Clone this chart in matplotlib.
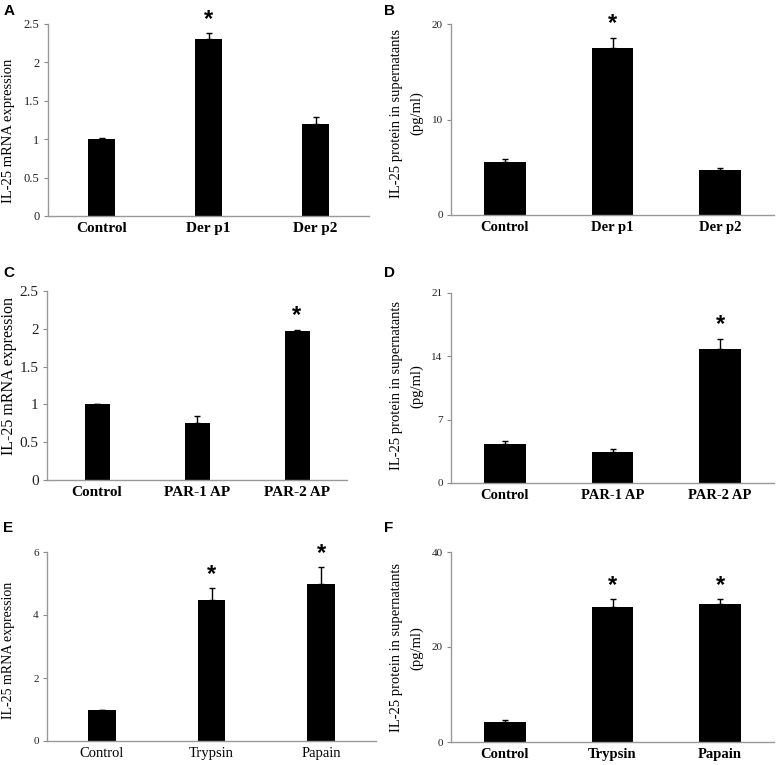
import matplotlib.pyplot as plt

plt.rcParams['font.family'] = ['Liberation Serif', 'DejaVu Serif']

W, H = 776, 765

# panel A: mRNA, house dust mite allergens
a_labels = ['Control', 'Der p1', 'Der p2']
a_values = [1.0, 2.31, 1.20]
a_errors = [0.01, 0.07, 0.09]
a_stars = [False, True, False]
a_ticks = [0, 0.5, 1, 1.5, 2, 2.5]

# panel B: protein, allergens
b_labels = ['Control', 'Der p1', 'Der p2']
b_values = [5.55, 17.5, 4.74]
b_errors = [0.28, 1.05, 0.2]
b_stars = [False, True, False]
b_ticks = [0, 10, 20]

# panel C: mRNA, PAR agonist peptides
c_labels = ['Control', 'PAR-1 AP', 'PAR-2 AP']
c_values = [1.0, 0.76, 1.97]
c_errors = [0.005, 0.08, 0.02]
c_stars = [False, False, True]
c_ticks = [0, 0.5, 1, 1.5, 2, 2.5]

# panel D: protein, PAR agonist peptides
d_labels = ['Control', 'PAR-1 AP', 'PAR-2 AP']
d_values = [4.27, 3.46, 14.8]
d_errors = [0.4, 0.33, 1.14]
d_stars = [False, False, True]
d_ticks = [0, 7, 14, 21]

# panel E: mRNA, proteases
e_labels = ['Control', 'Trypsin', 'Papain']
e_values = [1.0, 4.47, 4.99]
e_errors = [0.0, 0.38, 0.52]
e_stars = [False, True, True]
e_ticks = [0, 2, 4, 6]

# panel F: protein, proteases
f_labels = ['Control', 'Trypsin', 'Papain']
f_values = [4.28, 28.5, 29.0]
f_errors = [0.42, 1.6, 1.05]
f_stars = [False, True, True]
f_ticks = [0, 20, 40]

MRNA = 'IL-25 mRNA expression'
PROT = 'IL-25 protein in supernatants\n(pg/ml)'


def add_axes_px(fig, x0, y0, x1, y1):
    return fig.add_axes([x0 / W, 1 - y1 / H, (x1 - x0) / W, (y1 - y0) / H])


def bar_panel(ax, labels, values, errors, stars, ticks, width,
              xfont=10.5, bold_x=True, yfont=8):
    x = range(len(labels))
    ax.bar(x, values, width=width, color='black', zorder=2)
    ax.errorbar(x, values, yerr=[[0] * len(errors), errors], fmt='none',
                ecolor='black', elinewidth=1.0, capsize=2.5, capthick=1.0, zorder=3)
    for i, s in enumerate(stars):
        if s:
            ax.annotate('*', (i, values[i] + errors[i]), xytext=(0, 10),
                        textcoords='offset points', ha='center', va='center',
                        fontsize=17, fontweight='bold', family='Liberation Sans')
    ax.set_xlim(-0.5, len(labels) - 0.5)
    ax.set_ylim(0, ticks[-1])
    ax.set_yticks(ticks)
    ax.set_yticklabels(['%g' % t for t in ticks])
    ax.set_xticks(list(x))
    ax.set_xticklabels(labels, fontsize=xfont,
                       fontweight='bold' if bold_x else 'normal')
    ax.tick_params(axis='x', length=0, pad=4)
    ax.tick_params(axis='y', length=3, width=0.8, color='#888888',
                   labelsize=yfont, pad=3, labelcolor='#222222')
    for side in ['top', 'right']:
        ax.spines[side].set_visible(False)
    for side in ['left', 'bottom']:
        ax.spines[side].set_color('#999999')
        ax.spines[side].set_linewidth(1.0)


def ylabel_px(fig, text, x, y, size):
    fig.text(x / W, 1 - y / H, text, rotation=90, fontsize=size,
             ha='center', va='center', multialignment='center',
             linespacing=1.7)


fig = plt.figure(figsize=(W / 100, H / 100), dpi=100)

axA = add_axes_px(fig, 48, 24, 369, 216)
bar_panel(axA, a_labels, a_values, a_errors, a_stars, a_ticks, 0.25,
          xfont=11, yfont=9)
axB = add_axes_px(fig, 451, 24, 774, 215)
bar_panel(axB, b_labels, b_values, b_errors, b_stars, b_ticks, 0.39)
axC = add_axes_px(fig, 47, 291, 347, 480)
bar_panel(axC, c_labels, c_values, c_errors, c_stars, c_ticks, 0.25,
          xfont=11, yfont=11)
axD = add_axes_px(fig, 451, 293, 774, 483)
bar_panel(axD, d_labels, d_values, d_errors, d_stars, d_ticks, 0.39)
axE = add_axes_px(fig, 47, 552, 376, 741)
bar_panel(axE, e_labels, e_values, e_errors, e_stars, e_ticks, 0.25,
          xfont=10.5, bold_x=False)
axF = add_axes_px(fig, 451, 552, 774, 742)
bar_panel(axF, f_labels, f_values, f_errors, f_stars, f_ticks, 0.39)

ylabel_px(fig, MRNA, 9, 131, 10.5)
ylabel_px(fig, PROT, 407, 113, 10.5)
ylabel_px(fig, MRNA, 9, 376, 11.5)
ylabel_px(fig, PROT, 407, 386, 10.5)
ylabel_px(fig, MRNA, 9, 650, 10)
ylabel_px(fig, PROT, 407, 648, 10.5)

# panel letters
for letter, (px, py) in zip('ABCDEF', [(4, 4), (384, 4), (3, 266), (384, 266),
                                        (3, 521), (384, 521)]):
    fig.text(px / W, 1 - py / H, letter, fontsize=11, fontweight='bold',
             family='Liberation Sans', ha='left', va='top')

fig.savefig('out.png', dpi=100)
